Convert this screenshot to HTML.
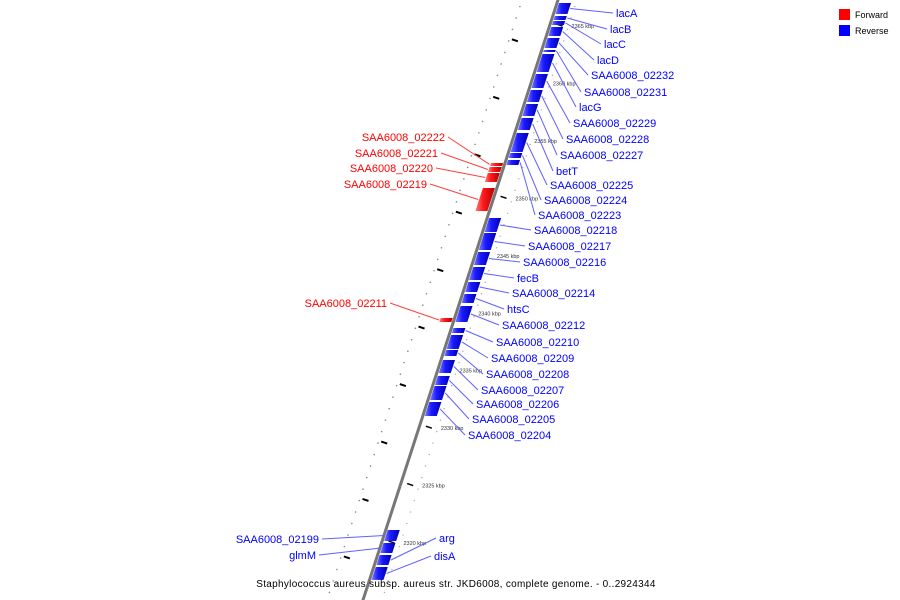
<!DOCTYPE html>
<html><head><meta charset="utf-8"><style>
html,body{margin:0;padding:0;background:#fff}
svg{display:block}
text{font-family:"Liberation Sans",sans-serif}
</style></head><body>
<svg id="map" width="900" height="600" viewBox="0 0 900 600" xmlns="http://www.w3.org/2000/svg">
<defs>
<linearGradient id="gb" x1="0" x2="1" y1="0" y2="0"><stop offset="0" stop-color="#7a7aff"/><stop offset="0.4" stop-color="#1a1aff"/><stop offset="1" stop-color="#0000b0"/></linearGradient>
<linearGradient id="gr" x1="0" x2="1" y1="0" y2="0"><stop offset="0" stop-color="#ff7a7a"/><stop offset="0.4" stop-color="#ff1a1a"/><stop offset="1" stop-color="#b00000"/></linearGradient>
</defs>
<g id="layer"></g>
<g>
<rect x="839" y="9" width="11" height="11" fill="#ff0000"/>
<text x="855" y="18" font-size="9">Forward</text>
<rect x="839" y="25" width="11" height="11" fill="#0000ff"/>
<text x="855" y="34" font-size="9">Reverse</text>
</g>
<text x="456" y="587" font-size="10" text-anchor="middle" letter-spacing="0.3">Staphylococcus aureus subsp. aureus str. JKD6008, complete genome. - 0..2924344</text>
</svg>
<script>
const tickKbp=[2365,2360,2355,2350,2345,2340,2335,2330,2325,2320];
const revStart=[2367.00,2365.87,2365.44,2364.91,2363.96,2362.91,2362.56,2360.82,2359.43,2358.21,2356.99,2355.69,2353.95,2353.34,2348.29,2346.98,2345.33,2344.03,2342.72,2341.68,2340.63,2338.72,2338.11,2336.80,2335.93,2334.54,2333.67,2332.28,2321.14,2320.00,2318.96,2317.92];
const revEnd=[2366.04,2365.52,2365.09,2364.13,2363.09,2362.74,2361.00,2359.60,2358.39,2357.17,2355.95,2354.03,2353.51,2352.90,2347.07,2345.50,2344.20,2342.89,2341.85,2340.89,2339.24,2338.28,2336.89,2336.28,2334.80,2333.76,2332.45,2331.06,2320.18,2319.13,2318.09,2316.79];
const revNames=["lacA","lacB","lacC","lacD","SAA6008_02232","SAA6008_02231","lacG","SAA6008_02229","SAA6008_02228","SAA6008_02227","betT","SAA6008_02225","SAA6008_02224","SAA6008_02223","SAA6008_02218","SAA6008_02217","SAA6008_02216","fecB","SAA6008_02214","htsC","SAA6008_02212","SAA6008_02210","SAA6008_02209","SAA6008_02208","SAA6008_02207","SAA6008_02206","SAA6008_02205","SAA6008_02204","SAA6008_02199","glmM","arg","disA"];
const revLabelY=[13,29,44,60,75,92,107,123,139,155,171,185,200,215,230,246,262,278,293,309,325,342,358,374,390,404,419,435,539,555,538,556];
const revLabelX=[616,610,604,597,591,584,579,573,566,560,556,550,544,538,534,528,523,517,512,507,502,496,491,486,481,476,472,468,319,316,439,434];
const revLabelSide=["r","r","r","r","r","r","r","r","r","r","r","r","r","r","r","r","r","r","r","r","r","r","r","r","r","r","r","r","l","l","r","r"];
const fwdStart=[2353.08,2352.73,2352.21,2350.90,2339.59];
const fwdEnd=[2352.82,2352.29,2351.42,2348.90,2339.24];
const fwdNames=["SAA6008_02222","SAA6008_02221","SAA6008_02220","SAA6008_02219","SAA6008_02211"];
const fwdLabelY=[137,153,168,184,303];
const fwdLabelX=[445,438,433,427,387];

const NS="http://www.w3.org/2000/svg";
const layer=document.getElementById('layer');
const yOf=k=>26+(2365-k)*11.49;
const lx=y=>558-0.325*y;
function mk(t,a){const e=document.createElementNS(NS,t);for(const k in a)e.setAttribute(k,a[k]);layer.appendChild(e);return e;}

// left dotted track and dashes
for(let y=-5;y<610;y+=11.49){const x=lx(y)-36;const d=mk('circle',{cx:x,cy:y,r:0.8,fill:'#888'});

}
for(let k=2367;k>2314;k-=5){const y=yOf(k+1.75);const x=lx(y)-30;const d=mk('line',{x1:x-3,y1:y-1,x2:x+3,y2:y+1,stroke:'#000','stroke-width':2});

}
// right dots
for(let y=-5;y<610;y+=11.49){const x=lx(y)+19;const d=mk('circle',{cx:x,cy:y,r:0.7,fill:'#aaa'});

}

// backbone
const bb=mk('line',{x1:lx(-5),y1:-5,x2:lx(605),y2:605,stroke:'#777','stroke-width':3});



// ticks
tickKbp.forEach(k=>{const y=yOf(k);const x=lx(y);
const t=mk('line',{x1:x+7,y1:y-2,x2:x+13,y2:y,stroke:'#000','stroke-width':1.5});


const tx=mk('text',{x:x+22,y:y+2,'font-size':5.5,fill:'#333'});tx.textContent=k+' kbp';

});

function gene(s,e,off,w,fill,name,strand){const y1=yOf(s),y2=yOf(e);
const p=[[lx(y1)+off,y1],[lx(y1)+off+w,y1],[lx(y2)+off+w,y2],[lx(y2)+off,y2]];
const g=mk('polygon',{points:p.map(q=>q.join(',')).join(' '),fill:fill});


return [(y1+y2)/2];}

revStart.forEach((s,i)=>{const ym=gene(s,revEnd[i],2,12,'url(#gb)',revNames[i])[0];
const gx=lx(ym)+15;let x2,tx,anchor;
if(revLabelSide[i]==='r'){x2=revLabelX[i]-3;anchor='start';}else{x2=revLabelX[i]+3;anchor='end';}
const gxx=revLabelSide[i]==='r'?gx:lx(ym)+1;
const l=mk('line',{x1:gxx,y1:ym,x2:x2,y2:revLabelY[i],stroke:'#6060ff','stroke-width':1});


const t=mk('text',{x:revLabelX[i],y:revLabelY[i]+4,'font-size':11,fill:'#0000ff','text-anchor':anchor});t.textContent=revNames[i];

});

fwdStart.forEach((s,i)=>{const ym=gene(s,fwdEnd[i],-14,12,'url(#gr)',fwdNames[i])[0];
const l=mk('line',{x1:lx(ym)-15,y1:ym,x2:fwdLabelX[i]+3,y2:fwdLabelY[i],stroke:'#ff4040','stroke-width':1});


const t=mk('text',{x:fwdLabelX[i],y:fwdLabelY[i]+4,'font-size':11,fill:'#ff0000','text-anchor':'end'});t.textContent=fwdNames[i];

});
</script>
</body></html>
